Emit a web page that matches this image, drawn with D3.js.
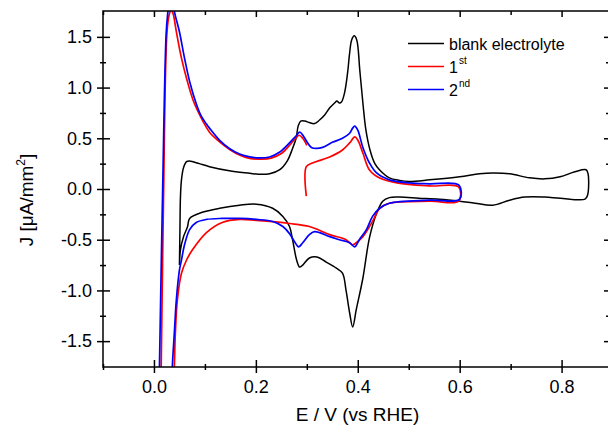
<!DOCTYPE html>
<html>
<head>
<meta charset="utf-8">
<script src="https://cdnjs.cloudflare.com/ajax/libs/d3/7.8.5/d3.min.js"></script>
<style>
body { margin: 0; background: #fff; }
text { font-family: "Liberation Sans", Arial, sans-serif; fill: #000; }
</style>
</head>
<body>
<svg id="svgarea"></svg>
<script>
// blank electrolyte CV (closed loop, anodic then cathodic sweep)
var blankE = [0.050, 0.051, 0.052, 0.054, 0.058, 0.064, 0.070, 0.089, 0.109, 0.148, 0.188, 0.205, 0.227, 0.247,
  0.262, 0.272, 0.279, 0.283, 0.288, 0.296, 0.305, 0.315, 0.325, 0.335, 0.345, 0.355, 0.359, 0.364, 0.368,
  0.374, 0.380, 0.384, 0.388, 0.393, 0.398, 0.404, 0.410, 0.416, 0.424, 0.433, 0.443, 0.462, 0.482, 0.501,
  0.541, 0.600, 0.639, 0.665, 0.698, 0.737, 0.767, 0.797, 0.826, 0.848, 0.852, 0.851, 0.846,
  0.797, 0.767, 0.728, 0.698, 0.665, 0.630, 0.600, 0.560, 0.520, 0.482, 0.462, 0.449, 0.437, 0.423,
  0.410, 0.397, 0.390, 0.384, 0.377, 0.370, 0.358, 0.338, 0.320, 0.305, 0.292, 0.286, 0.280, 0.272,
  0.266, 0.253, 0.233, 0.201, 0.168, 0.129, 0.095, 0.070, 0.066, 0.058, 0.052, 0.050];
var blankJ = [-0.75, -0.40, -0.08, 0.09, 0.21, 0.27, 0.276, 0.25, 0.22, 0.18, 0.155, 0.145, 0.15, 0.19,
  0.28, 0.40, 0.50, 0.62, 0.67, 0.67, 0.655, 0.645, 0.68, 0.73, 0.80, 0.85, 0.868, 0.848, 0.858,
  0.947, 1.144, 1.34, 1.47, 1.51, 1.47, 1.17, 0.85, 0.58, 0.385, 0.256, 0.187, 0.11, 0.085, 0.075,
  0.09, 0.12, 0.15, 0.158, 0.15, 0.11, 0.10, 0.12, 0.17, 0.19, 0.15, -0.06, -0.10,
  -0.09, -0.08, -0.08, -0.11, -0.16, -0.14, -0.12, -0.10, -0.09, -0.08, -0.085, -0.12, -0.24, -0.48,
  -0.88, -1.19, -1.36, -1.22, -1.00, -0.83, -0.78, -0.72, -0.67, -0.68, -0.75, -0.77, -0.70, -0.50,
  -0.37, -0.27, -0.19, -0.15, -0.16, -0.19, -0.23, -0.29, -0.37, -0.47, -0.60, -0.75];

// 1st cycle, starts at 0.30 V
var firstE = [0.299, 0.299, 0.311, 0.330, 0.345, 0.370, 0.384, 0.394, 0.400, 0.410, 0.423, 0.443, 0.477,
  0.541, 0.598, 0.598, 0.541, 0.462, 0.443, 0.430, 0.410, 0.397, 0.390, 0.377, 0.345, 0.305, 0.266,
  0.201, 0.168, 0.134, 0.103, 0.0756, 0.064, 0.054, 0.046, 0.042, 0.040, 0.037, 0.030, 0.018, 0.012,
  0.0142, 0.0187, 0.0255, 0.030, 0.034, 0.038, 0.044, 0.054, 0.064, 0.078, 0.097, 0.109, 0.130, 0.150,
  0.170, 0.190, 0.210, 0.230, 0.250, 0.266, 0.278, 0.285, 0.292, 0.300];
var firstJ = [-0.07, 0.22, 0.256, 0.29, 0.316, 0.385, 0.454, 0.513, 0.483, 0.355, 0.187, 0.108, 0.06,
  0.03, 0.02, -0.12, -0.12, -0.14, -0.19, -0.31, -0.47, -0.53, -0.55, -0.50, -0.45, -0.37, -0.34,
  -0.31, -0.30, -0.33, -0.43, -0.60, -0.70, -0.83, -1.09, -1.42, -1.755, -2.2, -2.5, -2.5, -2.3,
  -1.755, -0.11, 1.54, 1.72, 1.77, 1.72, 1.55, 1.29, 1.09, 0.86, 0.66, 0.56, 0.46, 0.385,
  0.33, 0.30, 0.295, 0.305, 0.35, 0.43, 0.50, 0.53, 0.50, 0.43];

// 2nd cycle
var secondE = [0.296, 0.309, 0.319, 0.331, 0.350, 0.370, 0.384, 0.390, 0.394, 0.400, 0.410, 0.423, 0.437,
  0.462, 0.502, 0.541, 0.598, 0.600, 0.541, 0.462, 0.443, 0.429, 0.417, 0.403, 0.394, 0.384, 0.364,
  0.345, 0.325, 0.315, 0.305, 0.292, 0.284, 0.276, 0.266, 0.253, 0.233, 0.201, 0.168, 0.134, 0.103,
  0.083, 0.070, 0.060, 0.054, 0.050, 0.044, 0.040, 0.036, 0.033, 0.025, 0.012, 0.0092,
  0.0108, 0.0167, 0.024, 0.0275, 0.032, 0.037, 0.040, 0.050, 0.060, 0.070, 0.083, 0.0926, 0.103, 0.109,
  0.129, 0.148, 0.168, 0.188, 0.207, 0.227, 0.247, 0.266, 0.280, 0.286, 0.296];
var secondJ = [0.50, 0.41, 0.40, 0.41, 0.46, 0.50, 0.55, 0.60, 0.62, 0.58, 0.41, 0.256, 0.158,
  0.09, 0.06, 0.05, 0.04, -0.10, -0.11, -0.14, -0.19, -0.27, -0.40, -0.50, -0.57, -0.53, -0.50,
  -0.47, -0.43, -0.42, -0.45, -0.53, -0.57, -0.52, -0.44, -0.37, -0.32, -0.30, -0.29, -0.29, -0.30,
  -0.33, -0.40, -0.55, -0.70, -0.80, -1.09, -1.42, -1.755, -2.2, -2.5, -2.5, -2.2,
  -1.755, -0.11, 1.535, 1.755, 1.95, 1.90, 1.755, 1.55, 1.29, 1.06, 0.84, 0.72, 0.64, 0.60,
  0.48, 0.40, 0.345, 0.316, 0.306, 0.316, 0.365, 0.454, 0.53, 0.56, 0.50];

var seriesNames = ['blank electrolyte', '1', '2'];
var seriesSup = ['', 'st', 'nd'];
var seriesColors = ['#000000', '#ff0000', '#0000ff'];

var xDomain = [-0.1, 0.895];
var yDomain = [-1.755, 1.755];
var xTicks = [0, 0.2, 0.4, 0.6, 0.8];
var xMinor = [-0.1, 0.1, 0.3, 0.5, 0.7];
var yTicks = [-1.5, -1, -0.5, 0, 0.5, 1, 1.5];
var yMinor = [-1.25, -0.75, -0.25, 0.25, 0.75, 1.25];

var WIDTH = 608, HEIGHT = 425;
var L = 103, R = 610, T = 11, B = 367;

var svg = d3.select('#svgarea').attr('width', WIDTH).attr('height', HEIGHT);

var x = d3.scaleLinear().domain(xDomain).range([L, R]);
var y = d3.scaleLinear().domain(yDomain).range([B, T]);
var fmt = function (d) { return d.toFixed(1); };

svg.append('clipPath').attr('id', 'plotclip')
  .append('rect').attr('x', L).attr('y', T).attr('width', R - L).attr('height', B - T);

var line = d3.line()
  .x(function (d) { return x(d[0]); })
  .y(function (d) { return y(d[1]); })
  .curve(d3.curveCatmullRom.alpha(0.5));

var curves = [d3.zip(blankE, blankJ), d3.zip(firstE, firstJ), d3.zip(secondE, secondJ)];

svg.append('g').attr('clip-path', 'url(#plotclip)')
  .selectAll('path.cv').data(curves).enter().append('path')
  .attr('class', 'cv')
  .attr('d', line)
  .attr('fill', 'none')
  .attr('stroke', function (d, i) { return seriesColors[i]; })
  .attr('stroke-width', function (d, i) { return i === 0 ? 1.5 : 1.7; })
  .attr('stroke-linejoin', 'round');

// axes: left/bottom ticks cross the spine, top/right point inward
function styleAxis(g) {
  g.select('.domain').remove();
  g.selectAll('.tick line').attr('stroke', '#000').attr('stroke-width', 1.5);
  g.selectAll('.tick text').attr('font-size', 18).attr('font-family', '"Liberation Sans", Arial, sans-serif');
}

var gl = svg.append('g').attr('transform', 'translate(' + L + ',0)')
  .call(d3.axisLeft(y).tickValues(yTicks).tickSizeInner(6).tickSizeOuter(0).tickPadding(5).tickFormat(fmt));
gl.selectAll('.tick line').attr('x1', 7);
styleAxis(gl);
var glm = svg.append('g').attr('transform', 'translate(' + L + ',0)')
  .call(d3.axisLeft(y).tickValues(yMinor).tickSize(3).tickFormat(''));
glm.selectAll('.tick line').attr('x1', 3);
styleAxis(glm);

var gb = svg.append('g').attr('transform', 'translate(0,' + B + ')')
  .call(d3.axisBottom(x).tickValues(xTicks).tickSizeInner(6).tickSizeOuter(0).tickPadding(7).tickFormat(fmt));
gb.selectAll('.tick line').attr('y1', -7);
styleAxis(gb);
var gbm = svg.append('g').attr('transform', 'translate(0,' + B + ')')
  .call(d3.axisBottom(x).tickValues(xMinor).tickSize(3).tickFormat(''));
gbm.selectAll('.tick line').attr('y1', -3);
styleAxis(gbm);

var gt = svg.append('g').attr('transform', 'translate(0,' + T + ')')
  .call(d3.axisTop(x).tickValues(xTicks).tickSize(-6).tickFormat(''));
styleAxis(gt);
var gtm = svg.append('g').attr('transform', 'translate(0,' + T + ')')
  .call(d3.axisTop(x).tickValues(xMinor).tickSize(-4).tickFormat(''));
styleAxis(gtm);

var gr = svg.append('g').attr('transform', 'translate(' + R + ',0)')
  .call(d3.axisRight(y).tickValues(yTicks).tickSize(-6).tickFormat(''));
styleAxis(gr);
var grm = svg.append('g').attr('transform', 'translate(' + R + ',0)')
  .call(d3.axisRight(y).tickValues(yMinor).tickSize(-4).tickFormat(''));
styleAxis(grm);

svg.append('rect')
  .attr('x', L).attr('y', T).attr('width', R - L).attr('height', B - T)
  .attr('fill', 'none').attr('stroke', '#000').attr('stroke-width', 1.5);

// axis titles
svg.append('text')
  .attr('x', (L + 612) / 2 + 0).attr('y', 421)
  .attr('text-anchor', 'middle').attr('font-size', 19)
  .text('E / V (vs RHE)');

var yl = svg.append('text')
  .attr('transform', 'translate(33,' + 200 + ') rotate(-90)')
  .attr('text-anchor', 'middle').attr('font-size', 19);
yl.append('tspan').text('J [\u03bcA/mm');
yl.append('tspan').attr('font-size', 12).attr('dy', -8).text('2');
yl.append('tspan').attr('dy', 8).text(']');

// legend
var leg = svg.append('g').selectAll('g').data(seriesNames).enter().append('g')
  .attr('transform', function (d, i) { return 'translate(408,' + (43.5 + i * 23) + ')'; });
leg.append('line')
  .attr('x1', 0).attr('x2', 36).attr('y1', 0).attr('y2', 0)
  .attr('stroke', function (d, i) { return seriesColors[i]; })
  .attr('stroke-width', 1.7);
var lt = leg.append('text').attr('x', 41).attr('y', 6).attr('font-size', 16);
lt.append('tspan').text(function (d) { return d; });
lt.append('tspan').attr('font-size', 10).attr('dy', -9).attr('dx', 1)
  .text(function (d, i) { return seriesSup[i]; });
</script>
</body>
</html>
